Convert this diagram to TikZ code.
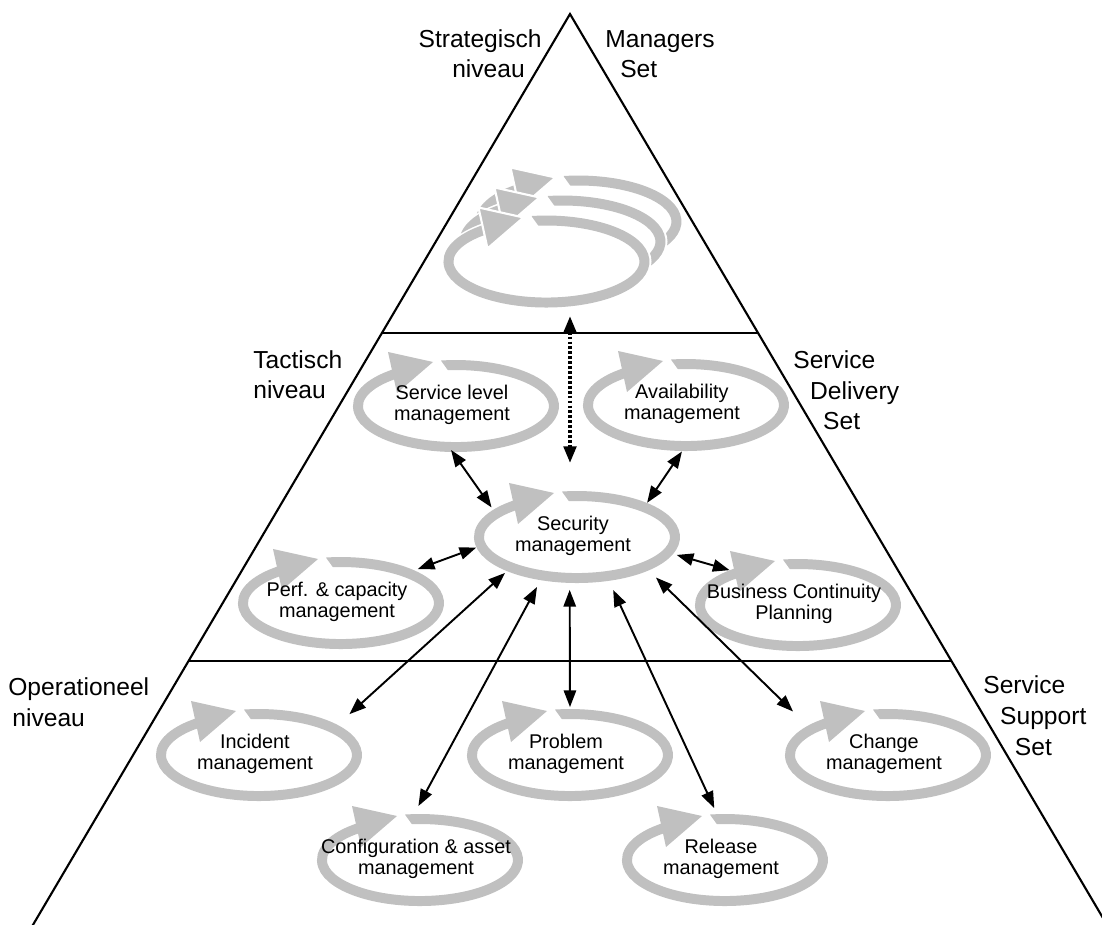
\documentclass[tikz,border=0pt]{standalone}
\usepackage{fontspec}
\setmainfont{Liberation Sans}
\usetikzlibrary{arrows.meta,shapes.geometric,calc}

\definecolor{ringgray}{RGB}{192,192,192}

% one process cycle: #1 name, #2 centre, #3 text
\newcommand{\itilcycle}[3]{%
  \begin{scope}[shift={#2}]
    \fill[white] (0,0) ellipse [x radius=105, y radius=48];
    \draw[cyclering] (-14.7,40.5) arc [start angle=98.6, end angle=-232, x radius=98, y radius=41];
    \fill[white] (-16,46.5) -- (-16,34) -- (-7,34) -- cycle;
    \filldraw[cyclehead] (-68,54) -- (-23,44) -- (-59,13) -- cycle;
  \end{scope}
  \node[cyclebox] (#1) at #2 {};
  \node[cycletext] (#1-text) at (#1.center) {#3};
}

\begin{document}
\begin{tikzpicture}[x=0.02cm, y=0.02cm,
    frame/.style={line width=1.2pt},
    cyclering/.style={draw=ringgray, line width=5.67pt},
    cyclehead/.style={fill=ringgray, draw=none},
    cyclebox/.style={ellipse, minimum width=4.14cm, minimum height=1.86cm, inner sep=0pt, outer sep=0pt},
    cycletext/.style={font=\fontsize{11.3}{12.2}\selectfont, align=center, inner sep=0pt, xshift=-2.3pt, yshift=0.8pt},
    levellabel/.style={font=\fontsize{14}{17.6}\selectfont, align=left, inner sep=0pt},
    link/.style={{Triangle[length=9.5pt,width=7pt]}-{Triangle[length=9.5pt,width=7pt]}, line width=1.1pt},
    dotlink/.style={link, line width=2.2pt, dash pattern=on 1.6pt off 1.2pt}]

  \useasboundingbox (0,0) rectangle (1102,-925);
  \clip (0,0) rectangle (1102,-925);

  % pyramid
  \coordinate (apex) at (570,-14);
  \coordinate (leftfoot) at (27,-935);
  \coordinate (rightfoot) at (1113,-935);
  \coordinate (upleft) at ($(apex)!0.3464!(leftfoot)$);
  \coordinate (upright) at ($(apex)!0.3464!(rightfoot)$);
  \coordinate (lowleft) at ($(apex)!0.7025!(leftfoot)$);
  \coordinate (lowright) at ($(apex)!0.7025!(rightfoot)$);
  \draw[frame] (leftfoot) -- (apex) -- (rightfoot);
  \draw[frame] (upleft) -- (upright);
  \draw[frame] (lowleft) -- (lowright);

  % level labels (base = last line)
  \node[levellabel, anchor=base east, align=right] (stratlabel) at (542,-78) {Strategisch\\niveau\hspace*{9.6pt}};
  \node[levellabel, anchor=base west] (mgrlabel) at (605,-78) {Managers\\\hspace*{8.5pt}Set};
  \node[levellabel, anchor=base west] (tactlabel) at (253,-399) {Tactisch\\niveau};
  \node[levellabel, anchor=base west] (sdlabel) at (793,-430) {Service\\\hspace*{9.6pt}Delivery\\\hspace*{17pt}Set};
  \node[levellabel, anchor=base west] (oplabel) at (8,-726) {Operationeel\\\hspace*{2.3pt}niveau};
  \node[levellabel, anchor=base west] (sslabel) at (983,-755) {Service\\\hspace*{9.6pt}Support\\\hspace*{18pt}Set};

  % strategic stack
  \begin{scope}[cyclehead/.append style={draw=white, line width=1.2pt}]
    \itilcycle{stratc}{(578.5,-221.5)}{}
    \itilcycle{stratb}{(562.5,-241.5)}{}
    \itilcycle{strat}{(546.5,-261.5)}{}
  \end{scope}

  % tactical
  \itilcycle{slm}{(456,-406)}{Service level\\management}
  \itilcycle{avm}{(686,-405)}{Availability\\management}
  \itilcycle{secm}{(577,-537)}{Security\\management}
  \itilcycle{pcm}{(341,-603)}{Perf. \& capacity\\management}
  \itilcycle{bcp}{(798,-605)}{Business Continuity\\Planning}

  % operational
  \itilcycle{incm}{(259,-755)}{Incident\\management}
  \itilcycle{prm}{(570,-755)}{Problem\\management}
  \itilcycle{chm}{(888,-755)}{Change\\management}
  \itilcycle{cam}{(420,-860)}{Configuration \& asset\\management}
  \itilcycle{rlm}{(725,-860)}{Release\\management}

  % links
  \coordinate (stratlink) at (570,-316);
  \draw[dotlink, shorten >=15.6pt] (stratlink) -- (stratlink |- secm.north);
  \draw[link, shorten <=-1.7pt, shorten >=1.6pt] (slm.-94) -- (secm.162);
  \draw[link] (avm.-95) -- (secm.26);
  \draw[link, shorten <=2pt] (pcm.24) -- (secm.186);
  \draw[link, shorten >=2pt] (bcp.153) -- (secm.-10);
  \draw[link, shorten <=9pt, shorten >=1.5pt] (incm.21) -- (secm.206);
  \draw[link, shorten <=4.9pt, shorten >=4.2pt] (cam.97.5) -- (secm.230);
  \draw[link, shorten <=0.8pt, shorten >=3.7pt] (prm.90) -- (secm.261.4);
  \draw[link, shorten <=3.5pt, shorten >=5.5pt] (rlm.100) -- (secm.-54.2);
  \draw[link, shorten <=11.6pt, shorten >=5.7pt] (chm.160.6) -- (secm.-25.6);
\end{tikzpicture}
\end{document}
